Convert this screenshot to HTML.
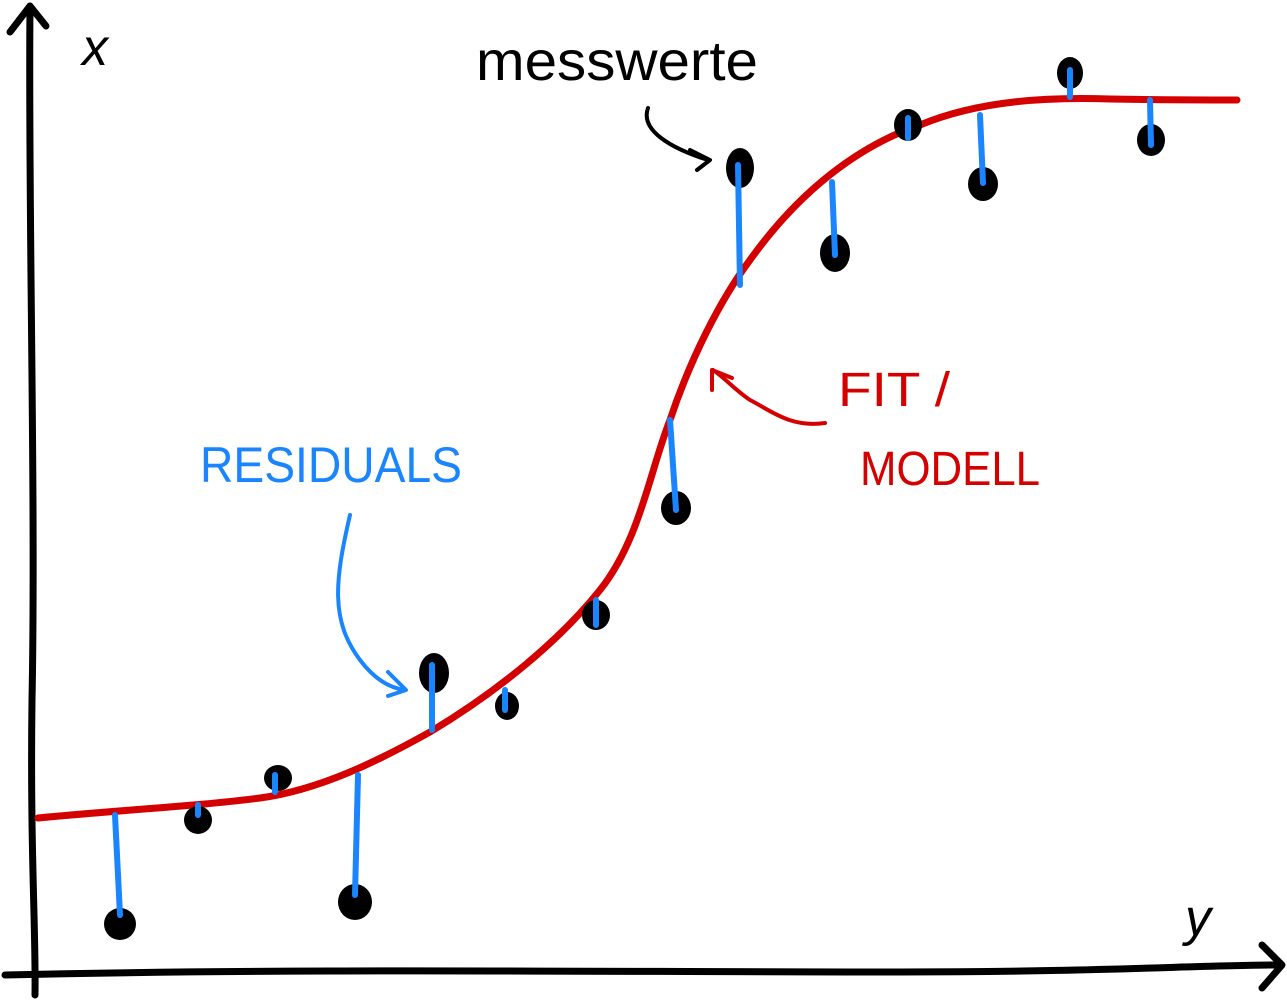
<!DOCTYPE html>
<html><head><meta charset="utf-8"><style>
html,body{margin:0;padding:0;background:#fff;}
svg{display:block;}
text{font-family:"Liberation Sans",sans-serif;}
</style></head><body>
<svg width="1287" height="1000" viewBox="0 0 1287 1000" xmlns="http://www.w3.org/2000/svg">
<g fill="none" stroke-linecap="round" stroke-linejoin="round">
<!-- axes -->
<path d="M30,8 C28,200 36,500 32,700 C30,850 36,930 35,995" stroke="#000" stroke-width="7"/>
<path d="M10,32 L30,6 L46,26" stroke="#000" stroke-width="7"/>
<path d="M5,975 C300,968 600,972 900,972 C1100,972 1200,965 1280,965" stroke="#000" stroke-width="7"/>
<path d="M1262,945 L1282,965 L1262,988" stroke="#000" stroke-width="7"/>
<!-- fit curve -->
<path d="M38,818 C120,810 200,806 260,798 C320,790 380,760 430,732 C500,690 560,640 600,590 C640,540 650,470 670,420 C690,360 720,300 750,260 C800,190 860,145 920,125 C980,100 1050,97 1110,99 C1170,100 1210,100 1237,100" stroke="#d40000" stroke-width="7"/>
<!-- arrows -->
<path d="M648,108 C640,130 670,148 708,160" stroke="#000" stroke-width="4"/>
<path d="M690,150 L710,160 L697,170" stroke="#000" stroke-width="4"/>
<path d="M825,423 C790,428 770,410 750,400 C735,390 725,378 713,370" stroke="#d40000" stroke-width="4"/>
<path d="M712,390 L712,370 L732,378" stroke="#d40000" stroke-width="4"/>
<path d="M350,515 C335,580 330,620 360,660 C375,680 390,688 405,690" stroke="#1a85ff" stroke-width="4"/>
<path d="M388,672 L406,690 L388,696" stroke="#1a85ff" stroke-width="4"/>
</g>
<!-- points -->
<g fill="#000">
<ellipse cx="120" cy="924" rx="16" ry="16"/><ellipse cx="198" cy="820" rx="14" ry="14"/>
<ellipse cx="278" cy="778" rx="14" ry="13"/><ellipse cx="355" cy="902" rx="17" ry="18"/>
<ellipse cx="434" cy="673" rx="15" ry="20"/><ellipse cx="507" cy="706" rx="12" ry="14"/>
<ellipse cx="596" cy="615" rx="14" ry="15"/><ellipse cx="676" cy="508" rx="15" ry="17"/>
<ellipse cx="740" cy="168" rx="14" ry="20"/><ellipse cx="835" cy="253" rx="15" ry="19"/>
<ellipse cx="908" cy="125" rx="14" ry="16"/><ellipse cx="983" cy="184" rx="15" ry="17"/>
<ellipse cx="1070" cy="73" rx="13" ry="16"/><ellipse cx="1151" cy="140" rx="14" ry="16"/>
</g>
<!-- residuals -->
<g stroke="#1a85ff" stroke-width="6" stroke-linecap="round" fill="none">
<path d="M115,815 L120,915"/><path d="M198,805 L198,815"/><path d="M275,775 L275,792"/>
<path d="M358,775 L355,895"/><path d="M432,665 L432,730"/><path d="M505,690 L505,710"/>
<path d="M596,600 L596,625"/><path d="M670,420 L676,510"/><path d="M738,165 L740,285"/>
<path d="M832,182 L835,255"/><path d="M908,118 L908,138"/><path d="M980,115 L983,183"/>
<path d="M1070,70 L1070,97"/><path d="M1150,100 L1151,145"/>
</g>
<!-- labels -->
<text x="82" y="65" font-size="52" font-style="italic" fill="#000">x</text>
<text x="1185" y="935" font-size="52" font-style="italic" fill="#000">y</text>
<text x="476" y="80" font-size="56" fill="#000" textLength="282" lengthAdjust="spacingAndGlyphs">messwerte</text>
<text x="200" y="482" font-size="50" fill="#1a85ff" textLength="262" lengthAdjust="spacingAndGlyphs">RESIDUALS</text>
<text x="838" y="406" font-size="48" fill="#d40000" textLength="112" lengthAdjust="spacingAndGlyphs">FIT /</text>
<text x="860" y="485" font-size="48" fill="#d40000" textLength="180" lengthAdjust="spacingAndGlyphs">MODELL</text>
</svg>
</body></html>
